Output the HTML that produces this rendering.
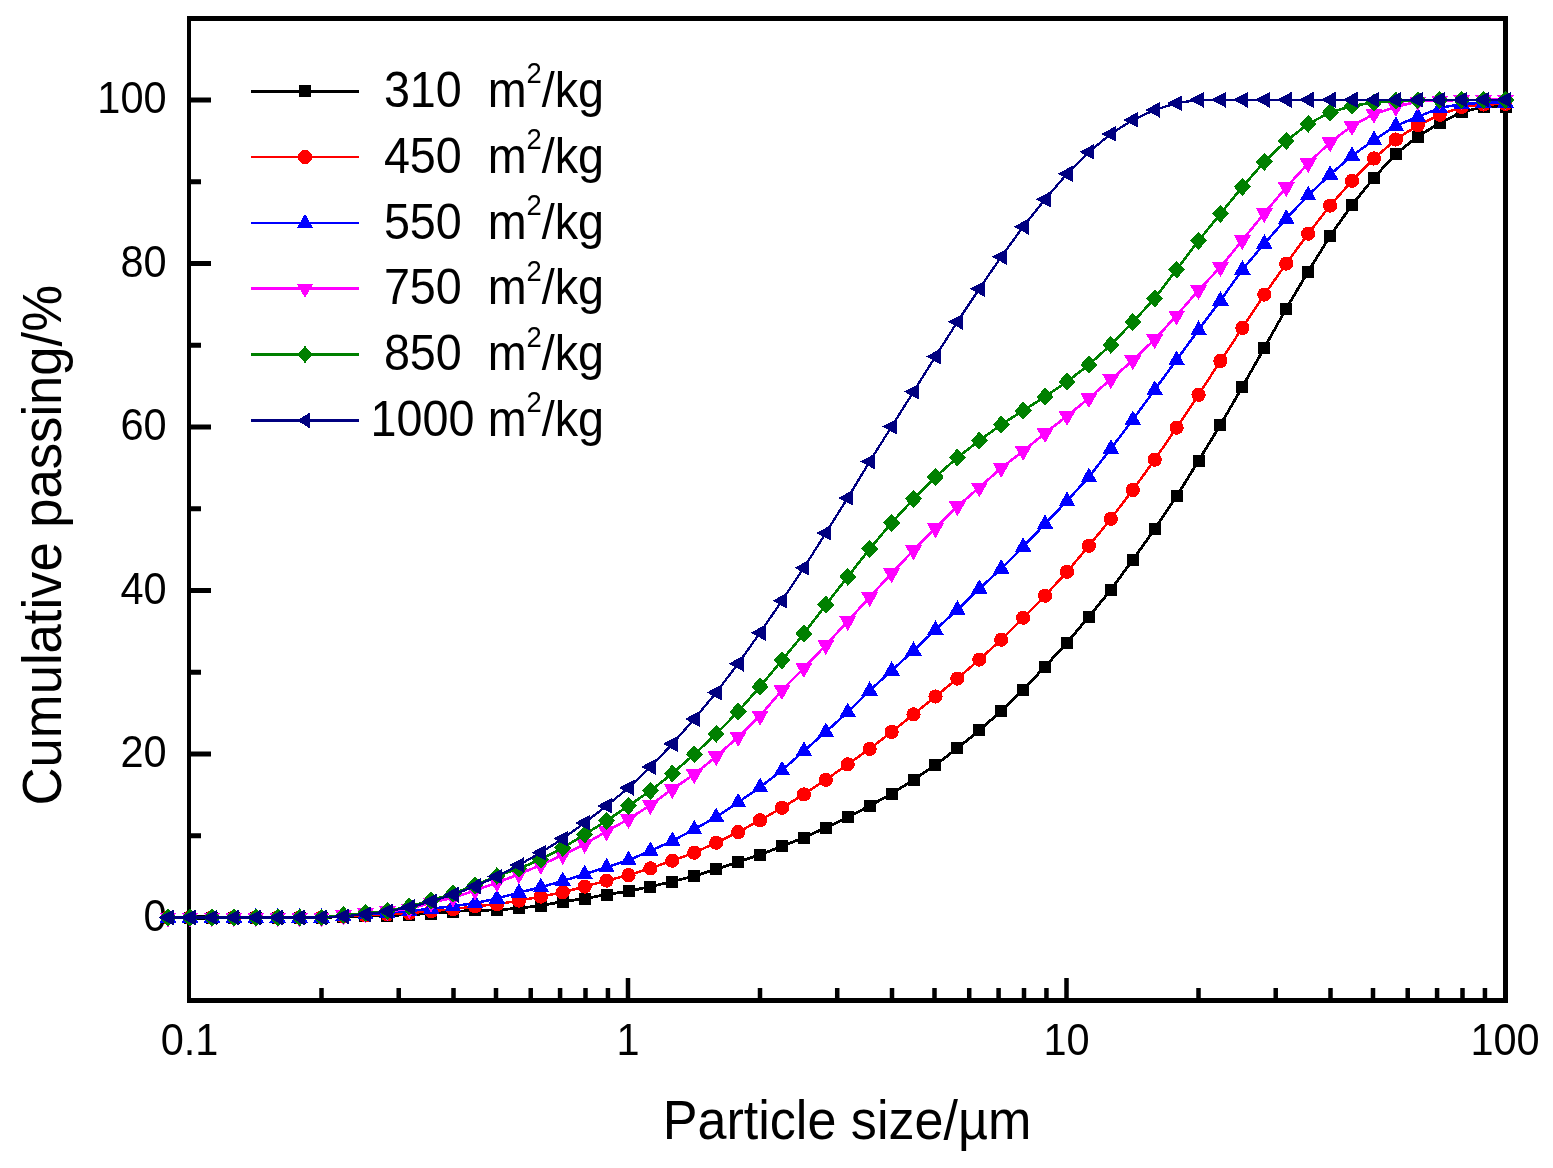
<!DOCTYPE html><html><head><meta charset="utf-8"><style>html,body{margin:0;padding:0;background:#fff;}svg{display:block;}text{font-family:"Liberation Sans",Arial,sans-serif;fill:#000;}</style></head><body>
<svg width="1553" height="1168" viewBox="0 0 1553 1168">
<rect width="1553" height="1168" fill="#fff"/>
<g fill="#000">
<rect x="187" y="16" width="4" height="987"/>
<rect x="1503" y="16" width="5" height="987"/>
<rect x="187" y="16" width="1321" height="5"/>
<rect x="187" y="998" width="1321" height="5"/>
<rect x="187" y="915.00" width="24" height="5"/>
<rect x="187" y="751.50" width="24" height="5"/>
<rect x="187" y="588.00" width="24" height="5"/>
<rect x="187" y="424.50" width="24" height="5"/>
<rect x="187" y="261.00" width="24" height="5"/>
<rect x="187" y="97.50" width="24" height="5"/>
<rect x="187" y="833.25" width="14" height="5"/>
<rect x="187" y="669.75" width="14" height="5"/>
<rect x="187" y="506.25" width="14" height="5"/>
<rect x="187" y="342.75" width="14" height="5"/>
<rect x="187" y="179.25" width="14" height="5"/>
<rect x="319.25" y="988" width="4.5" height="11"/>
<rect x="396.47" y="988" width="4.5" height="11"/>
<rect x="451.25" y="988" width="4.5" height="11"/>
<rect x="493.75" y="988" width="4.5" height="11"/>
<rect x="528.47" y="988" width="4.5" height="11"/>
<rect x="557.83" y="988" width="4.5" height="11"/>
<rect x="583.25" y="988" width="4.5" height="11"/>
<rect x="605.69" y="988" width="4.5" height="11"/>
<rect x="625.75" y="978" width="4.5" height="21"/>
<rect x="757.75" y="988" width="4.5" height="11"/>
<rect x="834.97" y="988" width="4.5" height="11"/>
<rect x="889.75" y="988" width="4.5" height="11"/>
<rect x="932.25" y="988" width="4.5" height="11"/>
<rect x="966.97" y="988" width="4.5" height="11"/>
<rect x="996.33" y="988" width="4.5" height="11"/>
<rect x="1021.75" y="988" width="4.5" height="11"/>
<rect x="1044.19" y="988" width="4.5" height="11"/>
<rect x="1064.25" y="978" width="4.5" height="21"/>
<rect x="1196.25" y="988" width="4.5" height="11"/>
<rect x="1273.47" y="988" width="4.5" height="11"/>
<rect x="1328.25" y="988" width="4.5" height="11"/>
<rect x="1370.75" y="988" width="4.5" height="11"/>
<rect x="1405.47" y="988" width="4.5" height="11"/>
<rect x="1434.83" y="988" width="4.5" height="11"/>
<rect x="1460.25" y="988" width="4.5" height="11"/>
<rect x="1482.69" y="988" width="4.5" height="11"/>
</g>
<text transform="translate(166.6,930.50) scale(0.954,1)" font-size="43.5" text-anchor="end">0</text>
<text transform="translate(166.6,767.00) scale(0.954,1)" font-size="43.5" text-anchor="end">20</text>
<text transform="translate(166.6,603.50) scale(0.954,1)" font-size="43.5" text-anchor="end">40</text>
<text transform="translate(166.6,440.00) scale(0.954,1)" font-size="43.5" text-anchor="end">60</text>
<text transform="translate(166.6,276.50) scale(0.954,1)" font-size="43.5" text-anchor="end">80</text>
<text transform="translate(166.6,113.00) scale(0.954,1)" font-size="43.5" text-anchor="end">100</text>
<text transform="translate(189.50,1054.5) scale(0.954,1)" font-size="43.5" text-anchor="middle">0.1</text>
<text transform="translate(628.00,1054.5) scale(0.954,1)" font-size="43.5" text-anchor="middle">1</text>
<text transform="translate(1066.50,1054.5) scale(0.954,1)" font-size="43.5" text-anchor="middle">10</text>
<text transform="translate(1505.00,1054.5) scale(0.954,1)" font-size="43.5" text-anchor="middle">100</text>
<text transform="translate(662.7,1138.9) scale(0.944,1)" font-size="55.2">Particle size/µm</text>
<text transform="translate(61,805.4) rotate(-90) scale(0.953,1)" font-size="55.2">Cumulative passing/%</text>
<g fill="#000000"><polyline points="168.07,917.50 190.00,917.50 211.93,917.50 233.85,917.50 255.78,917.50 277.70,917.50 299.62,917.50 321.55,917.50 343.48,916.70 365.40,916.40 387.33,915.60 409.25,914.70 431.18,913.50 453.10,911.50 475.03,910.30 496.95,910.00 518.88,908.20 540.80,905.60 562.73,901.60 584.65,898.60 606.58,894.60 628.50,891.20 650.42,886.60 672.35,881.60 694.28,876.00 716.20,869.30 738.12,862.10 760.05,854.70 781.98,846.30 803.90,837.70 825.83,827.70 847.75,817.40 869.68,805.80 891.60,793.80 913.52,779.80 935.45,764.90 957.38,748.30 979.30,730.30 1001.23,711.00 1023.15,689.60 1045.08,666.60 1067.00,642.60 1088.93,616.70 1110.85,589.80 1132.78,559.80 1154.70,529.20 1176.62,496.30 1198.55,460.70 1220.48,424.80 1242.40,386.80 1264.33,347.90 1286.25,308.50 1308.17,271.60 1330.10,236.00 1352.03,204.80 1373.95,177.80 1395.88,153.80 1417.80,136.50 1439.73,123.00 1461.65,112.00 1483.58,107.00 1505.50,106.50" fill="none" stroke="#000000" stroke-width="2.8" stroke-linejoin="round" shape-rendering="crispEdges"/>
<g shape-rendering="crispEdges"><rect x="162.07" y="911.50" width="12" height="12"/><rect x="184.00" y="911.50" width="12" height="12"/><rect x="205.93" y="911.50" width="12" height="12"/><rect x="227.85" y="911.50" width="12" height="12"/><rect x="249.78" y="911.50" width="12" height="12"/><rect x="271.70" y="911.50" width="12" height="12"/><rect x="293.62" y="911.50" width="12" height="12"/><rect x="315.55" y="911.50" width="12" height="12"/><rect x="337.48" y="910.70" width="12" height="12"/><rect x="359.40" y="910.40" width="12" height="12"/><rect x="381.33" y="909.60" width="12" height="12"/><rect x="403.25" y="908.70" width="12" height="12"/><rect x="425.18" y="907.50" width="12" height="12"/><rect x="447.10" y="905.50" width="12" height="12"/><rect x="469.03" y="904.30" width="12" height="12"/><rect x="490.95" y="904.00" width="12" height="12"/><rect x="512.88" y="902.20" width="12" height="12"/><rect x="534.80" y="899.60" width="12" height="12"/><rect x="556.73" y="895.60" width="12" height="12"/><rect x="578.65" y="892.60" width="12" height="12"/><rect x="600.58" y="888.60" width="12" height="12"/><rect x="622.50" y="885.20" width="12" height="12"/><rect x="644.42" y="880.60" width="12" height="12"/><rect x="666.35" y="875.60" width="12" height="12"/><rect x="688.28" y="870.00" width="12" height="12"/><rect x="710.20" y="863.30" width="12" height="12"/><rect x="732.12" y="856.10" width="12" height="12"/><rect x="754.05" y="848.70" width="12" height="12"/><rect x="775.98" y="840.30" width="12" height="12"/><rect x="797.90" y="831.70" width="12" height="12"/><rect x="819.83" y="821.70" width="12" height="12"/><rect x="841.75" y="811.40" width="12" height="12"/><rect x="863.68" y="799.80" width="12" height="12"/><rect x="885.60" y="787.80" width="12" height="12"/><rect x="907.52" y="773.80" width="12" height="12"/><rect x="929.45" y="758.90" width="12" height="12"/><rect x="951.38" y="742.30" width="12" height="12"/><rect x="973.30" y="724.30" width="12" height="12"/><rect x="995.23" y="705.00" width="12" height="12"/><rect x="1017.15" y="683.60" width="12" height="12"/><rect x="1039.08" y="660.60" width="12" height="12"/><rect x="1061.00" y="636.60" width="12" height="12"/><rect x="1082.93" y="610.70" width="12" height="12"/><rect x="1104.85" y="583.80" width="12" height="12"/><rect x="1126.78" y="553.80" width="12" height="12"/><rect x="1148.70" y="523.20" width="12" height="12"/><rect x="1170.62" y="490.30" width="12" height="12"/><rect x="1192.55" y="454.70" width="12" height="12"/><rect x="1214.48" y="418.80" width="12" height="12"/><rect x="1236.40" y="380.80" width="12" height="12"/><rect x="1258.33" y="341.90" width="12" height="12"/><rect x="1280.25" y="302.50" width="12" height="12"/><rect x="1302.17" y="265.60" width="12" height="12"/><rect x="1324.10" y="230.00" width="12" height="12"/><rect x="1346.03" y="198.80" width="12" height="12"/><rect x="1367.95" y="171.80" width="12" height="12"/><rect x="1389.88" y="147.80" width="12" height="12"/><rect x="1411.80" y="130.50" width="12" height="12"/><rect x="1433.73" y="117.00" width="12" height="12"/><rect x="1455.65" y="106.00" width="12" height="12"/><rect x="1477.58" y="101.00" width="12" height="12"/><rect x="1499.50" y="100.50" width="12" height="12"/></g></g>
<g fill="#FF0000"><polyline points="168.07,917.50 190.00,917.50 211.93,917.50 233.85,917.50 255.78,917.50 277.70,917.50 299.62,917.50 321.55,917.50 343.48,916.47 365.40,915.43 387.33,914.40 409.25,913.10 431.18,911.10 453.10,909.20 475.03,906.30 496.95,904.30 518.88,900.60 540.80,896.60 562.73,892.30 584.65,886.60 606.58,880.60 628.50,875.20 650.42,868.30 672.35,860.70 694.28,852.70 716.20,842.70 738.12,832.10 760.05,820.20 781.98,807.80 803.90,794.40 825.83,779.80 847.75,764.30 869.68,748.90 891.60,731.90 913.52,714.40 935.45,696.50 957.38,678.60 979.30,659.60 1001.23,639.70 1023.15,617.70 1045.08,595.70 1067.00,571.80 1088.93,545.80 1110.85,518.80 1132.78,490.00 1154.70,459.70 1176.62,427.70 1198.55,394.80 1220.48,360.90 1242.40,327.90 1264.33,294.60 1286.25,263.60 1308.17,233.70 1330.10,205.60 1352.03,180.80 1373.95,158.50 1395.88,139.50 1417.80,125.30 1439.73,114.80 1461.65,107.00 1483.58,104.50 1505.50,104.00" fill="none" stroke="#FF0000" stroke-width="2.5" stroke-linejoin="round" shape-rendering="crispEdges"/>
<g shape-rendering="crispEdges"><circle cx="168.07" cy="917.50" r="7.1"/><circle cx="190.00" cy="917.50" r="7.1"/><circle cx="211.93" cy="917.50" r="7.1"/><circle cx="233.85" cy="917.50" r="7.1"/><circle cx="255.78" cy="917.50" r="7.1"/><circle cx="277.70" cy="917.50" r="7.1"/><circle cx="299.62" cy="917.50" r="7.1"/><circle cx="321.55" cy="917.50" r="7.1"/><circle cx="343.48" cy="916.47" r="7.1"/><circle cx="365.40" cy="915.43" r="7.1"/><circle cx="387.33" cy="914.40" r="7.1"/><circle cx="409.25" cy="913.10" r="7.1"/><circle cx="431.18" cy="911.10" r="7.1"/><circle cx="453.10" cy="909.20" r="7.1"/><circle cx="475.03" cy="906.30" r="7.1"/><circle cx="496.95" cy="904.30" r="7.1"/><circle cx="518.88" cy="900.60" r="7.1"/><circle cx="540.80" cy="896.60" r="7.1"/><circle cx="562.73" cy="892.30" r="7.1"/><circle cx="584.65" cy="886.60" r="7.1"/><circle cx="606.58" cy="880.60" r="7.1"/><circle cx="628.50" cy="875.20" r="7.1"/><circle cx="650.42" cy="868.30" r="7.1"/><circle cx="672.35" cy="860.70" r="7.1"/><circle cx="694.28" cy="852.70" r="7.1"/><circle cx="716.20" cy="842.70" r="7.1"/><circle cx="738.12" cy="832.10" r="7.1"/><circle cx="760.05" cy="820.20" r="7.1"/><circle cx="781.98" cy="807.80" r="7.1"/><circle cx="803.90" cy="794.40" r="7.1"/><circle cx="825.83" cy="779.80" r="7.1"/><circle cx="847.75" cy="764.30" r="7.1"/><circle cx="869.68" cy="748.90" r="7.1"/><circle cx="891.60" cy="731.90" r="7.1"/><circle cx="913.52" cy="714.40" r="7.1"/><circle cx="935.45" cy="696.50" r="7.1"/><circle cx="957.38" cy="678.60" r="7.1"/><circle cx="979.30" cy="659.60" r="7.1"/><circle cx="1001.23" cy="639.70" r="7.1"/><circle cx="1023.15" cy="617.70" r="7.1"/><circle cx="1045.08" cy="595.70" r="7.1"/><circle cx="1067.00" cy="571.80" r="7.1"/><circle cx="1088.93" cy="545.80" r="7.1"/><circle cx="1110.85" cy="518.80" r="7.1"/><circle cx="1132.78" cy="490.00" r="7.1"/><circle cx="1154.70" cy="459.70" r="7.1"/><circle cx="1176.62" cy="427.70" r="7.1"/><circle cx="1198.55" cy="394.80" r="7.1"/><circle cx="1220.48" cy="360.90" r="7.1"/><circle cx="1242.40" cy="327.90" r="7.1"/><circle cx="1264.33" cy="294.60" r="7.1"/><circle cx="1286.25" cy="263.60" r="7.1"/><circle cx="1308.17" cy="233.70" r="7.1"/><circle cx="1330.10" cy="205.60" r="7.1"/><circle cx="1352.03" cy="180.80" r="7.1"/><circle cx="1373.95" cy="158.50" r="7.1"/><circle cx="1395.88" cy="139.50" r="7.1"/><circle cx="1417.80" cy="125.30" r="7.1"/><circle cx="1439.73" cy="114.80" r="7.1"/><circle cx="1461.65" cy="107.00" r="7.1"/><circle cx="1483.58" cy="104.50" r="7.1"/><circle cx="1505.50" cy="104.00" r="7.1"/></g></g>
<g fill="#0000FF"><polyline points="168.07,917.50 190.00,917.50 211.93,917.50 233.85,917.50 255.78,917.50 277.70,917.50 299.62,917.50 321.55,917.50 343.48,915.92 365.40,914.35 387.33,912.78 409.25,911.20 431.18,908.60 453.10,906.30 475.03,903.00 496.95,898.50 518.88,892.60 540.80,887.20 562.73,881.00 584.65,874.10 606.58,867.30 628.50,860.10 650.42,850.90 672.35,840.90 694.28,829.30 716.20,817.00 738.12,802.40 760.05,787.20 781.98,770.30 803.90,750.90 825.83,731.90 847.75,712.00 869.68,690.60 891.60,670.60 913.52,650.60 935.45,629.70 957.38,609.70 979.30,588.80 1001.23,568.60 1023.15,546.80 1045.08,523.90 1067.00,500.90 1088.93,477.00 1110.85,448.70 1132.78,419.80 1154.70,389.80 1176.62,359.90 1198.55,329.90 1220.48,300.50 1242.40,269.60 1264.33,243.70 1286.25,218.70 1308.17,195.30 1330.10,174.60 1352.03,155.80 1373.95,140.00 1395.88,125.80 1417.80,116.80 1439.73,108.00 1461.65,104.00 1483.58,102.80 1505.50,102.50" fill="none" stroke="#0000FF" stroke-width="2.5" stroke-linejoin="round" shape-rendering="crispEdges"/>
<g shape-rendering="crispEdges"><polygon points="168.07,908.00 176.32,922.50 159.82,922.50"/><polygon points="190.00,908.00 198.25,922.50 181.75,922.50"/><polygon points="211.93,908.00 220.18,922.50 203.68,922.50"/><polygon points="233.85,908.00 242.10,922.50 225.60,922.50"/><polygon points="255.78,908.00 264.02,922.50 247.53,922.50"/><polygon points="277.70,908.00 285.95,922.50 269.45,922.50"/><polygon points="299.62,908.00 307.88,922.50 291.38,922.50"/><polygon points="321.55,908.00 329.80,922.50 313.30,922.50"/><polygon points="343.48,906.42 351.73,920.92 335.23,920.92"/><polygon points="365.40,904.85 373.65,919.35 357.15,919.35"/><polygon points="387.33,903.28 395.58,917.78 379.08,917.78"/><polygon points="409.25,901.70 417.50,916.20 401.00,916.20"/><polygon points="431.18,899.10 439.43,913.60 422.93,913.60"/><polygon points="453.10,896.80 461.35,911.30 444.85,911.30"/><polygon points="475.03,893.50 483.28,908.00 466.78,908.00"/><polygon points="496.95,889.00 505.20,903.50 488.70,903.50"/><polygon points="518.88,883.10 527.12,897.60 510.62,897.60"/><polygon points="540.80,877.70 549.05,892.20 532.55,892.20"/><polygon points="562.73,871.50 570.98,886.00 554.48,886.00"/><polygon points="584.65,864.60 592.90,879.10 576.40,879.10"/><polygon points="606.58,857.80 614.83,872.30 598.33,872.30"/><polygon points="628.50,850.60 636.75,865.10 620.25,865.10"/><polygon points="650.42,841.40 658.67,855.90 642.17,855.90"/><polygon points="672.35,831.40 680.60,845.90 664.10,845.90"/><polygon points="694.28,819.80 702.53,834.30 686.03,834.30"/><polygon points="716.20,807.50 724.45,822.00 707.95,822.00"/><polygon points="738.12,792.90 746.38,807.40 729.88,807.40"/><polygon points="760.05,777.70 768.30,792.20 751.80,792.20"/><polygon points="781.98,760.80 790.23,775.30 773.73,775.30"/><polygon points="803.90,741.40 812.15,755.90 795.65,755.90"/><polygon points="825.83,722.40 834.08,736.90 817.58,736.90"/><polygon points="847.75,702.50 856.00,717.00 839.50,717.00"/><polygon points="869.68,681.10 877.93,695.60 861.43,695.60"/><polygon points="891.60,661.10 899.85,675.60 883.35,675.60"/><polygon points="913.52,641.10 921.77,655.60 905.27,655.60"/><polygon points="935.45,620.20 943.70,634.70 927.20,634.70"/><polygon points="957.38,600.20 965.62,614.70 949.12,614.70"/><polygon points="979.30,579.30 987.55,593.80 971.05,593.80"/><polygon points="1001.23,559.10 1009.48,573.60 992.98,573.60"/><polygon points="1023.15,537.30 1031.40,551.80 1014.90,551.80"/><polygon points="1045.08,514.40 1053.33,528.90 1036.83,528.90"/><polygon points="1067.00,491.40 1075.25,505.90 1058.75,505.90"/><polygon points="1088.93,467.50 1097.18,482.00 1080.68,482.00"/><polygon points="1110.85,439.20 1119.10,453.70 1102.60,453.70"/><polygon points="1132.78,410.30 1141.03,424.80 1124.53,424.80"/><polygon points="1154.70,380.30 1162.95,394.80 1146.45,394.80"/><polygon points="1176.62,350.40 1184.88,364.90 1168.38,364.90"/><polygon points="1198.55,320.40 1206.80,334.90 1190.30,334.90"/><polygon points="1220.48,291.00 1228.73,305.50 1212.23,305.50"/><polygon points="1242.40,260.10 1250.65,274.60 1234.15,274.60"/><polygon points="1264.33,234.20 1272.58,248.70 1256.08,248.70"/><polygon points="1286.25,209.20 1294.50,223.70 1278.00,223.70"/><polygon points="1308.17,185.80 1316.42,200.30 1299.92,200.30"/><polygon points="1330.10,165.10 1338.35,179.60 1321.85,179.60"/><polygon points="1352.03,146.30 1360.28,160.80 1343.78,160.80"/><polygon points="1373.95,130.50 1382.20,145.00 1365.70,145.00"/><polygon points="1395.88,116.30 1404.12,130.80 1387.62,130.80"/><polygon points="1417.80,107.30 1426.05,121.80 1409.55,121.80"/><polygon points="1439.73,98.50 1447.98,113.00 1431.48,113.00"/><polygon points="1461.65,94.50 1469.90,109.00 1453.40,109.00"/><polygon points="1483.58,93.30 1491.83,107.80 1475.33,107.80"/><polygon points="1505.50,93.00 1513.75,107.50 1497.25,107.50"/></g></g>
<g fill="#FF00FF"><polyline points="168.07,917.50 190.00,917.50 211.93,917.50 233.85,917.50 255.78,917.50 277.70,917.50 299.62,917.50 321.55,917.50 343.48,915.40 365.40,913.30 387.33,911.20 409.25,909.10 431.18,902.70 453.10,897.70 475.03,890.50 496.95,882.70 518.88,874.30 540.80,865.00 562.73,855.00 584.65,844.00 606.58,831.40 628.50,819.10 650.42,805.10 672.35,789.10 694.28,774.40 716.20,756.40 738.12,737.00 760.05,715.90 781.98,690.10 803.90,668.10 825.83,645.10 847.75,621.20 869.68,597.20 891.60,573.30 913.52,550.30 935.45,528.40 957.38,506.40 979.30,487.50 1001.23,468.00 1023.15,451.10 1045.08,433.10 1067.00,416.10 1088.93,398.20 1110.85,379.30 1132.78,360.40 1154.70,339.40 1176.62,315.50 1198.55,290.10 1220.48,267.10 1242.40,240.20 1264.33,213.20 1286.25,187.30 1308.17,163.30 1330.10,142.40 1352.03,126.00 1373.95,114.00 1395.88,107.00 1417.80,101.50 1439.73,100.50 1461.65,100.00 1483.58,99.80 1505.50,99.70" fill="none" stroke="#FF00FF" stroke-width="2.6" stroke-linejoin="round" shape-rendering="crispEdges"/>
<g shape-rendering="crispEdges"><polygon points="159.57,912.50 176.57,912.50 168.07,927.50"/><polygon points="181.50,912.50 198.50,912.50 190.00,927.50"/><polygon points="203.43,912.50 220.43,912.50 211.93,927.50"/><polygon points="225.35,912.50 242.35,912.50 233.85,927.50"/><polygon points="247.28,912.50 264.27,912.50 255.78,927.50"/><polygon points="269.20,912.50 286.20,912.50 277.70,927.50"/><polygon points="291.12,912.50 308.12,912.50 299.62,927.50"/><polygon points="313.05,912.50 330.05,912.50 321.55,927.50"/><polygon points="334.98,910.40 351.98,910.40 343.48,925.40"/><polygon points="356.90,908.30 373.90,908.30 365.40,923.30"/><polygon points="378.83,906.20 395.83,906.20 387.33,921.20"/><polygon points="400.75,904.10 417.75,904.10 409.25,919.10"/><polygon points="422.68,897.70 439.68,897.70 431.18,912.70"/><polygon points="444.60,892.70 461.60,892.70 453.10,907.70"/><polygon points="466.53,885.50 483.53,885.50 475.03,900.50"/><polygon points="488.45,877.70 505.45,877.70 496.95,892.70"/><polygon points="510.38,869.30 527.38,869.30 518.88,884.30"/><polygon points="532.30,860.00 549.30,860.00 540.80,875.00"/><polygon points="554.23,850.00 571.23,850.00 562.73,865.00"/><polygon points="576.15,839.00 593.15,839.00 584.65,854.00"/><polygon points="598.08,826.40 615.08,826.40 606.58,841.40"/><polygon points="620.00,814.10 637.00,814.10 628.50,829.10"/><polygon points="641.92,800.10 658.92,800.10 650.42,815.10"/><polygon points="663.85,784.10 680.85,784.10 672.35,799.10"/><polygon points="685.78,769.40 702.78,769.40 694.28,784.40"/><polygon points="707.70,751.40 724.70,751.40 716.20,766.40"/><polygon points="729.62,732.00 746.62,732.00 738.12,747.00"/><polygon points="751.55,710.90 768.55,710.90 760.05,725.90"/><polygon points="773.48,685.10 790.48,685.10 781.98,700.10"/><polygon points="795.40,663.10 812.40,663.10 803.90,678.10"/><polygon points="817.33,640.10 834.33,640.10 825.83,655.10"/><polygon points="839.25,616.20 856.25,616.20 847.75,631.20"/><polygon points="861.18,592.20 878.18,592.20 869.68,607.20"/><polygon points="883.10,568.30 900.10,568.30 891.60,583.30"/><polygon points="905.02,545.30 922.02,545.30 913.52,560.30"/><polygon points="926.95,523.40 943.95,523.40 935.45,538.40"/><polygon points="948.88,501.40 965.88,501.40 957.38,516.40"/><polygon points="970.80,482.50 987.80,482.50 979.30,497.50"/><polygon points="992.73,463.00 1009.73,463.00 1001.23,478.00"/><polygon points="1014.65,446.10 1031.65,446.10 1023.15,461.10"/><polygon points="1036.58,428.10 1053.58,428.10 1045.08,443.10"/><polygon points="1058.50,411.10 1075.50,411.10 1067.00,426.10"/><polygon points="1080.43,393.20 1097.43,393.20 1088.93,408.20"/><polygon points="1102.35,374.30 1119.35,374.30 1110.85,389.30"/><polygon points="1124.28,355.40 1141.28,355.40 1132.78,370.40"/><polygon points="1146.20,334.40 1163.20,334.40 1154.70,349.40"/><polygon points="1168.12,310.50 1185.12,310.50 1176.62,325.50"/><polygon points="1190.05,285.10 1207.05,285.10 1198.55,300.10"/><polygon points="1211.98,262.10 1228.98,262.10 1220.48,277.10"/><polygon points="1233.90,235.20 1250.90,235.20 1242.40,250.20"/><polygon points="1255.83,208.20 1272.83,208.20 1264.33,223.20"/><polygon points="1277.75,182.30 1294.75,182.30 1286.25,197.30"/><polygon points="1299.67,158.30 1316.67,158.30 1308.17,173.30"/><polygon points="1321.60,137.40 1338.60,137.40 1330.10,152.40"/><polygon points="1343.53,121.00 1360.53,121.00 1352.03,136.00"/><polygon points="1365.45,109.00 1382.45,109.00 1373.95,124.00"/><polygon points="1387.38,102.00 1404.38,102.00 1395.88,117.00"/><polygon points="1409.30,96.50 1426.30,96.50 1417.80,111.50"/><polygon points="1431.23,95.50 1448.23,95.50 1439.73,110.50"/><polygon points="1453.15,95.00 1470.15,95.00 1461.65,110.00"/><polygon points="1475.08,94.80 1492.08,94.80 1483.58,109.80"/><polygon points="1497.00,94.70 1514.00,94.70 1505.50,109.70"/></g></g>
<g fill="#008000"><polyline points="168.07,917.50 190.00,917.50 211.93,917.50 233.85,917.50 255.78,917.50 277.70,917.50 299.62,917.50 321.55,917.50 343.48,915.33 365.40,913.17 387.33,911.00 409.25,906.50 431.18,900.50 453.10,893.50 475.03,885.30 496.95,876.00 518.88,868.50 540.80,859.50 562.73,847.80 584.65,834.50 606.58,820.80 628.50,805.80 650.42,790.80 672.35,773.50 694.28,754.30 716.20,733.90 738.12,711.60 760.05,686.60 781.98,660.20 803.90,633.70 825.83,604.70 847.75,576.80 869.68,548.80 891.60,522.90 913.52,498.90 935.45,477.00 957.38,457.50 979.30,440.60 1001.23,424.60 1023.15,410.60 1045.08,396.70 1067.00,381.70 1088.93,364.70 1110.85,344.90 1132.78,322.00 1154.70,298.50 1176.62,269.60 1198.55,240.70 1220.48,213.70 1242.40,186.80 1264.33,161.80 1286.25,140.90 1308.17,123.90 1330.10,112.50 1352.03,106.00 1373.95,102.50 1395.88,100.80 1417.80,100.20 1439.73,100.00 1461.65,100.00 1483.58,100.00 1505.50,100.00" fill="none" stroke="#008000" stroke-width="2.6" stroke-linejoin="round" shape-rendering="crispEdges"/>
<g shape-rendering="crispEdges"><polygon points="168.07,908.50 176.57,917.50 168.07,926.50 159.57,917.50"/><polygon points="190.00,908.50 198.50,917.50 190.00,926.50 181.50,917.50"/><polygon points="211.93,908.50 220.43,917.50 211.93,926.50 203.43,917.50"/><polygon points="233.85,908.50 242.35,917.50 233.85,926.50 225.35,917.50"/><polygon points="255.78,908.50 264.27,917.50 255.78,926.50 247.28,917.50"/><polygon points="277.70,908.50 286.20,917.50 277.70,926.50 269.20,917.50"/><polygon points="299.62,908.50 308.12,917.50 299.62,926.50 291.12,917.50"/><polygon points="321.55,908.50 330.05,917.50 321.55,926.50 313.05,917.50"/><polygon points="343.48,906.33 351.98,915.33 343.48,924.33 334.98,915.33"/><polygon points="365.40,904.17 373.90,913.17 365.40,922.17 356.90,913.17"/><polygon points="387.33,902.00 395.83,911.00 387.33,920.00 378.83,911.00"/><polygon points="409.25,897.50 417.75,906.50 409.25,915.50 400.75,906.50"/><polygon points="431.18,891.50 439.68,900.50 431.18,909.50 422.68,900.50"/><polygon points="453.10,884.50 461.60,893.50 453.10,902.50 444.60,893.50"/><polygon points="475.03,876.30 483.53,885.30 475.03,894.30 466.53,885.30"/><polygon points="496.95,867.00 505.45,876.00 496.95,885.00 488.45,876.00"/><polygon points="518.88,859.50 527.38,868.50 518.88,877.50 510.38,868.50"/><polygon points="540.80,850.50 549.30,859.50 540.80,868.50 532.30,859.50"/><polygon points="562.73,838.80 571.23,847.80 562.73,856.80 554.23,847.80"/><polygon points="584.65,825.50 593.15,834.50 584.65,843.50 576.15,834.50"/><polygon points="606.58,811.80 615.08,820.80 606.58,829.80 598.08,820.80"/><polygon points="628.50,796.80 637.00,805.80 628.50,814.80 620.00,805.80"/><polygon points="650.42,781.80 658.92,790.80 650.42,799.80 641.92,790.80"/><polygon points="672.35,764.50 680.85,773.50 672.35,782.50 663.85,773.50"/><polygon points="694.28,745.30 702.78,754.30 694.28,763.30 685.78,754.30"/><polygon points="716.20,724.90 724.70,733.90 716.20,742.90 707.70,733.90"/><polygon points="738.12,702.60 746.62,711.60 738.12,720.60 729.62,711.60"/><polygon points="760.05,677.60 768.55,686.60 760.05,695.60 751.55,686.60"/><polygon points="781.98,651.20 790.48,660.20 781.98,669.20 773.48,660.20"/><polygon points="803.90,624.70 812.40,633.70 803.90,642.70 795.40,633.70"/><polygon points="825.83,595.70 834.33,604.70 825.83,613.70 817.33,604.70"/><polygon points="847.75,567.80 856.25,576.80 847.75,585.80 839.25,576.80"/><polygon points="869.68,539.80 878.18,548.80 869.68,557.80 861.18,548.80"/><polygon points="891.60,513.90 900.10,522.90 891.60,531.90 883.10,522.90"/><polygon points="913.52,489.90 922.02,498.90 913.52,507.90 905.02,498.90"/><polygon points="935.45,468.00 943.95,477.00 935.45,486.00 926.95,477.00"/><polygon points="957.38,448.50 965.88,457.50 957.38,466.50 948.88,457.50"/><polygon points="979.30,431.60 987.80,440.60 979.30,449.60 970.80,440.60"/><polygon points="1001.23,415.60 1009.73,424.60 1001.23,433.60 992.73,424.60"/><polygon points="1023.15,401.60 1031.65,410.60 1023.15,419.60 1014.65,410.60"/><polygon points="1045.08,387.70 1053.58,396.70 1045.08,405.70 1036.58,396.70"/><polygon points="1067.00,372.70 1075.50,381.70 1067.00,390.70 1058.50,381.70"/><polygon points="1088.93,355.70 1097.43,364.70 1088.93,373.70 1080.43,364.70"/><polygon points="1110.85,335.90 1119.35,344.90 1110.85,353.90 1102.35,344.90"/><polygon points="1132.78,313.00 1141.28,322.00 1132.78,331.00 1124.28,322.00"/><polygon points="1154.70,289.50 1163.20,298.50 1154.70,307.50 1146.20,298.50"/><polygon points="1176.62,260.60 1185.12,269.60 1176.62,278.60 1168.12,269.60"/><polygon points="1198.55,231.70 1207.05,240.70 1198.55,249.70 1190.05,240.70"/><polygon points="1220.48,204.70 1228.98,213.70 1220.48,222.70 1211.98,213.70"/><polygon points="1242.40,177.80 1250.90,186.80 1242.40,195.80 1233.90,186.80"/><polygon points="1264.33,152.80 1272.83,161.80 1264.33,170.80 1255.83,161.80"/><polygon points="1286.25,131.90 1294.75,140.90 1286.25,149.90 1277.75,140.90"/><polygon points="1308.17,114.90 1316.67,123.90 1308.17,132.90 1299.67,123.90"/><polygon points="1330.10,103.50 1338.60,112.50 1330.10,121.50 1321.60,112.50"/><polygon points="1352.03,97.00 1360.53,106.00 1352.03,115.00 1343.53,106.00"/><polygon points="1373.95,93.50 1382.45,102.50 1373.95,111.50 1365.45,102.50"/><polygon points="1395.88,91.80 1404.38,100.80 1395.88,109.80 1387.38,100.80"/><polygon points="1417.80,91.20 1426.30,100.20 1417.80,109.20 1409.30,100.20"/><polygon points="1439.73,91.00 1448.23,100.00 1439.73,109.00 1431.23,100.00"/><polygon points="1461.65,91.00 1470.15,100.00 1461.65,109.00 1453.15,100.00"/><polygon points="1483.58,91.00 1492.08,100.00 1483.58,109.00 1475.08,100.00"/><polygon points="1505.50,91.00 1514.00,100.00 1505.50,109.00 1497.00,100.00"/></g></g>
<g fill="#000080"><polyline points="168.07,917.50 190.00,917.50 211.93,917.50 233.85,917.50 255.78,917.50 277.70,917.50 299.62,917.50 321.55,917.50 343.48,916.30 365.40,914.40 387.33,911.40 409.25,907.30 431.18,901.50 453.10,894.60 475.03,886.30 496.95,876.50 518.88,865.00 540.80,852.70 562.73,838.70 584.65,822.80 606.58,805.80 628.50,787.80 650.42,766.90 672.35,743.90 694.28,719.00 716.20,692.50 738.12,663.60 760.05,632.70 781.98,600.70 803.90,567.80 825.83,532.90 847.75,497.90 869.68,461.50 891.60,426.60 913.52,391.70 935.45,356.50 957.38,321.80 979.30,288.80 1001.23,256.80 1023.15,226.70 1045.08,199.40 1067.00,173.80 1088.93,151.90 1110.85,133.90 1132.78,119.90 1154.70,109.90 1176.62,103.20 1198.55,99.80 1220.48,99.80 1242.40,99.80 1264.33,99.80 1286.25,99.80 1308.17,99.80 1330.10,99.80 1352.03,99.80 1373.95,99.80 1395.88,99.80 1417.80,99.80 1439.73,99.80 1461.65,99.80 1483.58,99.80 1505.50,99.80" fill="none" stroke="#000080" stroke-width="2.3" stroke-linejoin="round" shape-rendering="crispEdges"/>
<g shape-rendering="crispEdges"><polygon points="158.57,917.50 173.57,909.50 173.57,925.50"/><polygon points="180.50,917.50 195.50,909.50 195.50,925.50"/><polygon points="202.43,917.50 217.43,909.50 217.43,925.50"/><polygon points="224.35,917.50 239.35,909.50 239.35,925.50"/><polygon points="246.28,917.50 261.27,909.50 261.27,925.50"/><polygon points="268.20,917.50 283.20,909.50 283.20,925.50"/><polygon points="290.12,917.50 305.12,909.50 305.12,925.50"/><polygon points="312.05,917.50 327.05,909.50 327.05,925.50"/><polygon points="333.98,916.30 348.98,908.30 348.98,924.30"/><polygon points="355.90,914.40 370.90,906.40 370.90,922.40"/><polygon points="377.83,911.40 392.83,903.40 392.83,919.40"/><polygon points="399.75,907.30 414.75,899.30 414.75,915.30"/><polygon points="421.68,901.50 436.68,893.50 436.68,909.50"/><polygon points="443.60,894.60 458.60,886.60 458.60,902.60"/><polygon points="465.53,886.30 480.53,878.30 480.53,894.30"/><polygon points="487.45,876.50 502.45,868.50 502.45,884.50"/><polygon points="509.38,865.00 524.38,857.00 524.38,873.00"/><polygon points="531.30,852.70 546.30,844.70 546.30,860.70"/><polygon points="553.23,838.70 568.23,830.70 568.23,846.70"/><polygon points="575.15,822.80 590.15,814.80 590.15,830.80"/><polygon points="597.08,805.80 612.08,797.80 612.08,813.80"/><polygon points="619.00,787.80 634.00,779.80 634.00,795.80"/><polygon points="640.92,766.90 655.92,758.90 655.92,774.90"/><polygon points="662.85,743.90 677.85,735.90 677.85,751.90"/><polygon points="684.78,719.00 699.78,711.00 699.78,727.00"/><polygon points="706.70,692.50 721.70,684.50 721.70,700.50"/><polygon points="728.62,663.60 743.62,655.60 743.62,671.60"/><polygon points="750.55,632.70 765.55,624.70 765.55,640.70"/><polygon points="772.48,600.70 787.48,592.70 787.48,608.70"/><polygon points="794.40,567.80 809.40,559.80 809.40,575.80"/><polygon points="816.33,532.90 831.33,524.90 831.33,540.90"/><polygon points="838.25,497.90 853.25,489.90 853.25,505.90"/><polygon points="860.18,461.50 875.18,453.50 875.18,469.50"/><polygon points="882.10,426.60 897.10,418.60 897.10,434.60"/><polygon points="904.02,391.70 919.02,383.70 919.02,399.70"/><polygon points="925.95,356.50 940.95,348.50 940.95,364.50"/><polygon points="947.88,321.80 962.88,313.80 962.88,329.80"/><polygon points="969.80,288.80 984.80,280.80 984.80,296.80"/><polygon points="991.73,256.80 1006.73,248.80 1006.73,264.80"/><polygon points="1013.65,226.70 1028.65,218.70 1028.65,234.70"/><polygon points="1035.58,199.40 1050.58,191.40 1050.58,207.40"/><polygon points="1057.50,173.80 1072.50,165.80 1072.50,181.80"/><polygon points="1079.43,151.90 1094.43,143.90 1094.43,159.90"/><polygon points="1101.35,133.90 1116.35,125.90 1116.35,141.90"/><polygon points="1123.28,119.90 1138.28,111.90 1138.28,127.90"/><polygon points="1145.20,109.90 1160.20,101.90 1160.20,117.90"/><polygon points="1167.12,103.20 1182.12,95.20 1182.12,111.20"/><polygon points="1189.05,99.80 1204.05,91.80 1204.05,107.80"/><polygon points="1210.98,99.80 1225.98,91.80 1225.98,107.80"/><polygon points="1232.90,99.80 1247.90,91.80 1247.90,107.80"/><polygon points="1254.83,99.80 1269.83,91.80 1269.83,107.80"/><polygon points="1276.75,99.80 1291.75,91.80 1291.75,107.80"/><polygon points="1298.67,99.80 1313.67,91.80 1313.67,107.80"/><polygon points="1320.60,99.80 1335.60,91.80 1335.60,107.80"/><polygon points="1342.53,99.80 1357.53,91.80 1357.53,107.80"/><polygon points="1364.45,99.80 1379.45,91.80 1379.45,107.80"/><polygon points="1386.38,99.80 1401.38,91.80 1401.38,107.80"/><polygon points="1408.30,99.80 1423.30,91.80 1423.30,107.80"/><polygon points="1430.23,99.80 1445.23,91.80 1445.23,107.80"/><polygon points="1452.15,99.80 1467.15,91.80 1467.15,107.80"/><polygon points="1474.08,99.80 1489.08,91.80 1489.08,107.80"/><polygon points="1496.00,99.80 1511.00,91.80 1511.00,107.80"/></g></g>
<g fill="#000000"><rect x="251" y="90.00" width="108" height="3"/>
<g shape-rendering="crispEdges"><rect x="299.00" y="85.00" width="12" height="12"/></g></g>
<text transform="translate(383.9,106.90) scale(0.938,1)" font-size="49.8">310</text>
<text transform="translate(487.8,106.90) scale(0.938,1)" font-size="49.8">m</text>
<text transform="translate(526.6,83.40) scale(0.938,1)" font-size="29.2">2</text>
<text transform="translate(541.8,106.90) scale(0.938,1)" font-size="49.8">/kg</text>
<g fill="#FF0000"><rect x="251" y="156.00" width="108" height="2"/>
<g shape-rendering="crispEdges"><circle cx="305.00" cy="157.00" r="7.1"/></g></g>
<text transform="translate(383.9,172.70) scale(0.938,1)" font-size="49.8">450</text>
<text transform="translate(487.8,172.70) scale(0.938,1)" font-size="49.8">m</text>
<text transform="translate(526.6,149.20) scale(0.938,1)" font-size="29.2">2</text>
<text transform="translate(541.8,172.70) scale(0.938,1)" font-size="49.8">/kg</text>
<g fill="#0000FF"><rect x="251" y="222.00" width="108" height="2"/>
<g shape-rendering="crispEdges"><polygon points="305.00,213.70 313.00,227.80 297.00,227.80"/></g></g>
<text transform="translate(383.9,238.50) scale(0.938,1)" font-size="49.8">550</text>
<text transform="translate(487.8,238.50) scale(0.938,1)" font-size="49.8">m</text>
<text transform="translate(526.6,215.00) scale(0.938,1)" font-size="29.2">2</text>
<text transform="translate(541.8,238.50) scale(0.938,1)" font-size="49.8">/kg</text>
<g fill="#FF00FF"><rect x="251" y="287.00" width="108" height="3"/>
<g shape-rendering="crispEdges"><polygon points="297.00,284.10 313.00,284.10 305.00,298.00"/></g></g>
<text transform="translate(383.9,304.30) scale(0.938,1)" font-size="49.8">750</text>
<text transform="translate(487.8,304.30) scale(0.938,1)" font-size="49.8">m</text>
<text transform="translate(526.6,280.80) scale(0.938,1)" font-size="29.2">2</text>
<text transform="translate(541.8,304.30) scale(0.938,1)" font-size="49.8">/kg</text>
<g fill="#008000"><rect x="251" y="353.00" width="108" height="3"/>
<g shape-rendering="crispEdges"><polygon points="305.00,345.80 312.60,354.50 305.00,363.20 297.40,354.50"/></g></g>
<text transform="translate(383.9,370.10) scale(0.938,1)" font-size="49.8">850</text>
<text transform="translate(487.8,370.10) scale(0.938,1)" font-size="49.8">m</text>
<text transform="translate(526.6,346.60) scale(0.938,1)" font-size="29.2">2</text>
<text transform="translate(541.8,370.10) scale(0.938,1)" font-size="49.8">/kg</text>
<g fill="#000080"><rect x="251" y="419.00" width="108" height="3"/>
<g shape-rendering="crispEdges"><polygon points="297.20,420.50 310.00,412.40 310.00,428.60"/></g></g>
<text transform="translate(370.5,435.90) scale(0.938,1)" font-size="49.8">1000</text>
<text transform="translate(487.8,435.90) scale(0.938,1)" font-size="49.8">m</text>
<text transform="translate(526.6,412.40) scale(0.938,1)" font-size="29.2">2</text>
<text transform="translate(541.8,435.90) scale(0.938,1)" font-size="49.8">/kg</text>
</svg></body></html>
